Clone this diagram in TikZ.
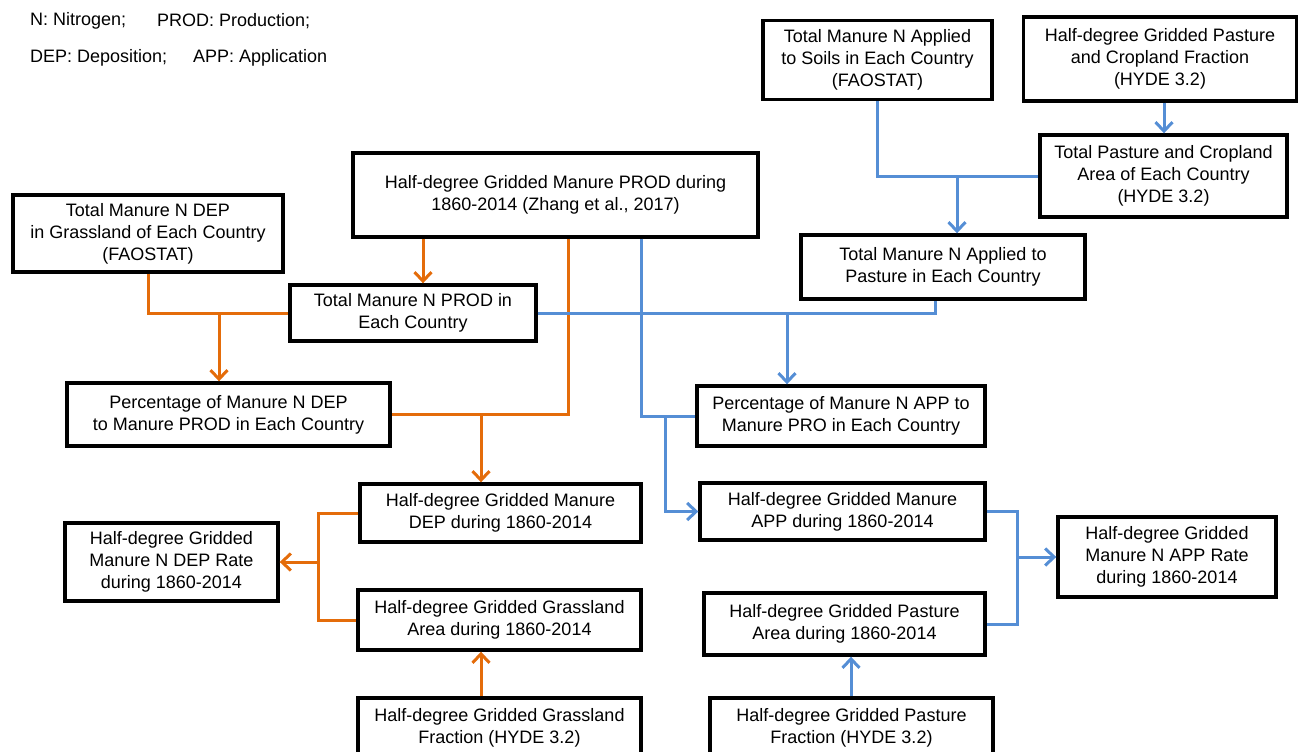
\documentclass[tikz,border=0pt]{standalone}
\usepackage{fontspec}
\setmainfont{Liberation Sans}
\usetikzlibrary{arrows.meta}
\definecolor{manureorange}{RGB}{228,108,10}
\definecolor{manureblue}{RGB}{85,142,213}
\begin{document}
\begin{tikzpicture}[
      x=1pt, y=-1pt,
      % boxes of the flow chart
      databox/.style={draw=black, line width=3.4pt, align=center, inner sep=0pt,
                      font=\fontsize{18}{22}\selectfont},
      legend/.style={anchor=west, inner sep=0pt, font=\fontsize{18}{22}\selectfont},
      depline/.style={draw=manureorange, line width=3pt},
      appline/.style={draw=manureblue, line width=3pt},
      >={Straight Barb[length=9pt, width=17pt, line width=3pt]}
  ]
  \useasboundingbox (0,0) rectangle (1299,752);

  %%%%%%%%%%%%%%%%%%%%%%%%%%%%%%%%%%%%%%%%%%%%%%%%%%%%%%%%
  % Legend of abbreviations
  %%%%%%%%%%%%%%%%%%%%%%%%%%%%%%%%%%%%%%%%%%%%%%%%%%%%%%%%
  \node[legend] (legN)    at (30,21)  {N: Nitrogen;};
  \node[legend] (legPROD) at (157,21) {PROD: Production;};
  \node[legend] (legDEP)  at (30,58)  {DEP: Deposition;};
  \node[legend] (legAPP)  at (193,58) {APP: Application};

  %%%%%%%%%%%%%%%%%%%%%%%%%%%%%%%%%%%%%%%%%%%%%%%%%%%%%%%%
  % Country level inputs (top)
  %%%%%%%%%%%%%%%%%%%%%%%%%%%%%%%%%%%%%%%%%%%%%%%%%%%%%%%%
  \node[databox, minimum width=229pt, minimum height=79pt] (FaoSoil) at (877.5,60)
       {Total Manure N Applied\\to Soils in Each Country\\(FAOSTAT)};
  \node[databox, minimum width=273pt, minimum height=84pt] (HydeFrac) at (1160,59)
       {Half-degree Gridded Pasture\\and Cropland Fraction\\(HYDE 3.2)};
  \node[databox, minimum width=247pt, minimum height=82pt] (HydeArea) at (1163.5,176)
       {Total Pasture and Cropland\\Area of Each Country\\(HYDE 3.2)};
  \node[databox, minimum width=405pt, minimum height=84pt] (GridProd) at (555.5,195)
       {Half-degree Gridded Manure PROD during\\1860-2014 (Zhang et al., 2017)};
  \node[databox, minimum width=270pt, minimum height=77pt] (FaoDep) at (148,233.5)
       {Total Manure N DEP\\in Grassland of Each Country\\(FAOSTAT)};
  \node[databox, minimum width=284pt, minimum height=64pt] (PastApp) at (943,267)
       {Total Manure N Applied to\\Pasture in Each Country};
  \node[databox, minimum width=246pt, minimum height=56pt] (CtryProd) at (413,313)
       {Total Manure N PROD in\\Each Country};

  %%%%%%%%%%%%%%%%%%%%%%%%%%%%%%%%%%%%%%%%%%%%%%%%%%%%%%%%
  % Percentages (middle)
  %%%%%%%%%%%%%%%%%%%%%%%%%%%%%%%%%%%%%%%%%%%%%%%%%%%%%%%%
  \node[databox, minimum width=323pt, minimum height=63pt] (PctDep) at (228.5,414.5)
       {Percentage of Manure N DEP\\to Manure PROD in Each Country};
  \node[databox, minimum width=288pt, minimum height=60pt] (PctApp) at (841,416)
       {Percentage of Manure N APP to\\Manure PRO in Each Country};

  %%%%%%%%%%%%%%%%%%%%%%%%%%%%%%%%%%%%%%%%%%%%%%%%%%%%%%%%
  % Gridded outputs (bottom)
  %%%%%%%%%%%%%%%%%%%%%%%%%%%%%%%%%%%%%%%%%%%%%%%%%%%%%%%%
  \node[databox, minimum width=281pt, minimum height=58pt] (GridDep) at (500.5,513)
       {Half-degree Gridded Manure\\DEP during 1860-2014};
  \node[databox, minimum width=285pt, minimum height=57pt] (GridApp) at (842.5,511.5)
       {Half-degree Gridded Manure\\APP during 1860-2014};
  \node[databox, minimum width=213pt, minimum height=78pt] (DepRate) at (171.5,562)
       {Half-degree Gridded\\Manure N DEP Rate\\during 1860-2014};
  \node[databox, minimum width=218pt, minimum height=80pt] (AppRate) at (1167,557)
       {Half-degree Gridded\\Manure N APP Rate\\during 1860-2014};
  \node[databox, minimum width=283pt, minimum height=60pt] (GrassArea) at (499.5,620)
       {Half-degree Gridded Grassland\\Area during 1860-2014};
  \node[databox, minimum width=281pt, minimum height=62pt] (PastArea) at (844.5,624)
       {Half-degree Gridded Pasture\\Area during 1860-2014};
  \node[databox, minimum width=283pt, minimum height=60pt] (GrassFrac) at (499.5,728)
       {Half-degree Gridded Grassland\\Fraction (HYDE 3.2)};
  \node[databox, minimum width=283pt, minimum height=60pt] (PastFrac) at (851.5,728)
       {Half-degree Gridded Pasture\\Fraction (HYDE 3.2)};

  %%%%%%%%%%%%%%%%%%%%%%%%%%%%%%%%%%%%%%%%%%%%%%%%%%%%%%%%
  % Orange connectors: deposition branch
  %%%%%%%%%%%%%%%%%%%%%%%%%%%%%%%%%%%%%%%%%%%%%%%%%%%%%%%%
  \coordinate (prodTap) at (423,0);
  \draw[depline, ->] (GridProd.south -| prodTap) -- (CtryProd.north -| prodTap);

  \coordinate (depJoin) at (219,313);
  \draw[depline] (FaoDep.south) |- (CtryProd.west);
  \draw[depline, ->] (depJoin) -- (PctDep.north -| depJoin);

  \coordinate (gridTapDep) at (568,0);
  \coordinate (pctJoin) at (481,414.5);
  \draw[depline] (GridProd.south -| gridTapDep) |- (PctDep.east);
  \draw[depline, ->] (pctJoin) -- (GridDep.north -| pctJoin);

  \coordinate (rateJoin) at (318,562);
  \draw[depline] (GridDep.west) -| (rateJoin) |- (GrassArea.west);
  \draw[depline, ->] (rateJoin) -- (DepRate.east);

  \coordinate (grassTap) at (481,0);
  \draw[depline, ->] (GrassFrac.north -| grassTap) -- (GrassArea.south -| grassTap);

  %%%%%%%%%%%%%%%%%%%%%%%%%%%%%%%%%%%%%%%%%%%%%%%%%%%%%%%%
  % Blue connectors: application branch
  %%%%%%%%%%%%%%%%%%%%%%%%%%%%%%%%%%%%%%%%%%%%%%%%%%%%%%%%
  \coordinate (soilJoin) at (957,176);
  \draw[appline] (FaoSoil.south) |- (HydeArea.west);
  \draw[appline, ->] (soilJoin) -- (PastApp.north -| soilJoin);

  \coordinate (hydeTap) at (1164,0);
  \draw[appline, ->] (HydeFrac.south -| hydeTap) -- (HydeArea.north -| hydeTap);

  \coordinate (pastTap) at (935,0);
  \coordinate (prodJoin) at (787,313);
  \draw[appline] (CtryProd.east) -| (PastApp.south -| pastTap);
  \draw[appline, ->] (prodJoin) -- (PctApp.north -| prodJoin);

  \coordinate (gridTapApp) at (641,0);
  \coordinate (appJoin) at (665,416);
  \draw[appline] (GridProd.south -| gridTapApp) |- (PctApp.west);
  \draw[appline, ->] (appJoin) |- (GridApp.west);

  \coordinate (appRateJoin) at (1017,557);
  \draw[appline] (GridApp.east) -| (appRateJoin) |- (PastArea.east);
  \draw[appline, ->] (appRateJoin) -- (AppRate.west);

  \coordinate (pastFracTap) at (851,0);
  \draw[appline, ->] (PastFrac.north -| pastFracTap) -- (PastArea.south -| pastFracTap);

\end{tikzpicture}
\end{document}
